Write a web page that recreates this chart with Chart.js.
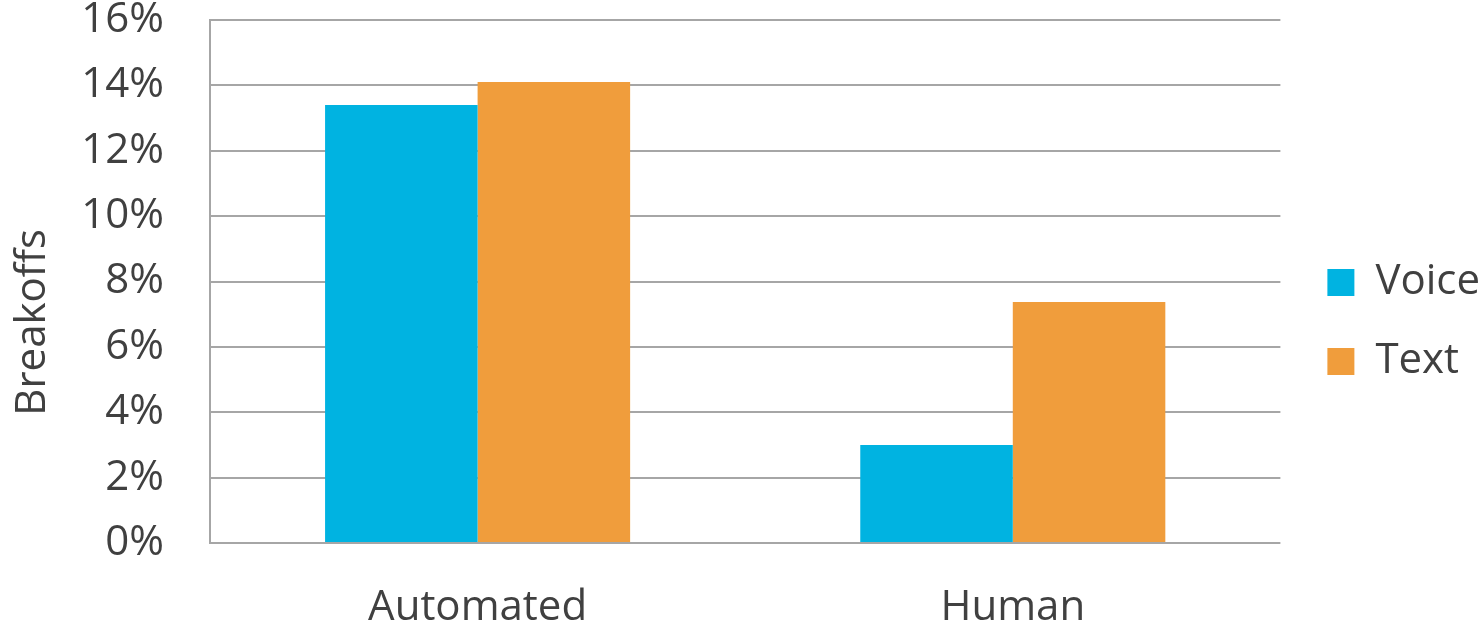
<!DOCTYPE html>
<html>
<head>
<meta charset="utf-8">
<script src="https://cdn.jsdelivr.net/npm/chart.js@4/dist/chart.umd.min.js"></script>
<style>
  html, body { margin: 0; padding: 0; background: #fff; }
  #wrap { width: 1484px; height: 624px; }
</style>
</head>
<body>
<div id="wrap"><canvas id="grafico"></canvas></div>
<script>
const categorias = ['Automated', 'Human'];
const voz = [13.4, 3.0];
const texto = [14.1, 7.37];
const yMax = 16;
const yPasso = 2;
const tituloY = 'Breakoffs';

const corTexto = '#404040';
const corGrade = '#a6a6a6';
const fonte = "'Open Sans', sans-serif";

// empurra a legenda um pouco para a direita, longe da área do gráfico
const deslocaLegenda = {
    id: 'deslocaLegenda',
    afterLayout(chart) {
        const l = chart.legend;
        if (!l) return;
        l.left += 10;
        l.right += 10;
    }
};

// título do eixo Y, girado, um pouco abaixo do centro do eixo
const tituloEixo = {
    id: 'tituloEixo',
    afterDraw(chart) {
        const c = chart.ctx;
        const area = chart.chartArea;
        c.save();
        c.translate(33, area.top + (area.bottom - area.top) * 0.578);
        c.rotate(-Math.PI / 2);
        c.fillStyle = corTexto;
        c.font = "42px 'Open Sans', sans-serif";
        c.textAlign = 'center';
        c.textBaseline = 'middle';
        c.fillText(tituloY, 0, 0);
        c.restore();
    }
};

const ctx = document.getElementById('grafico').getContext('2d');
new Chart(ctx, {
    type: 'bar',
    data: {
        labels: categorias,
        datasets: [
            { label: 'Voice', data: voz, backgroundColor: '#00B3E1', borderWidth: 0 },
            { label: 'Text', data: texto, backgroundColor: '#F09D3C', borderWidth: 0 }
        ]
    },
    plugins: [deslocaLegenda, tituloEixo],
    options: {
        responsive: true,
        maintainAspectRatio: false,
        animation: false,
        datasets: { bar: { categoryPercentage: 0.57, barPercentage: 1.0 } },
        layout: { padding: { top: 20, right: 4, bottom: 0, left: 8 } },
        plugins: {
            tooltip: { enabled: false },
            legend: {
                position: 'right',
                labels: {
                    color: corTexto,
                    font: { family: fonte, size: 42 },
                    boxWidth: 27,
                    boxHeight: 27,
                    padding: 37
                }
            }
        },
        scales: {
            x: {
                grid: { display: false, drawTicks: false },
                border: { display: false },
                ticks: {
                    color: corTexto,
                    font: { family: fonte, size: 42, lineHeight: 1.15 },
                    padding: 41,
                    maxRotation: 0
                },
                afterFit(scale) {
                    scale.height = 81;
                }
            },
            y: {
                min: 0,
                max: yMax,
                grid: { color: corGrade, lineWidth: 2, drawTicks: false },
                border: { display: true, color: corGrade, width: 2 },
                ticks: {
                    stepSize: yPasso,
                    color: corTexto,
                    font: { family: fonte, size: 42 },
                    padding: 46,
                    callback: v => v + '%'
                },
                afterFit(scale) {
                    // largura fixa do eixo e sem folga vertical extra
                    scale.width = 202;
                    scale.paddingTop = 0;
                    scale.paddingBottom = 0;
                }
            }
        }
    }
});
</script>
</body>
</html>
